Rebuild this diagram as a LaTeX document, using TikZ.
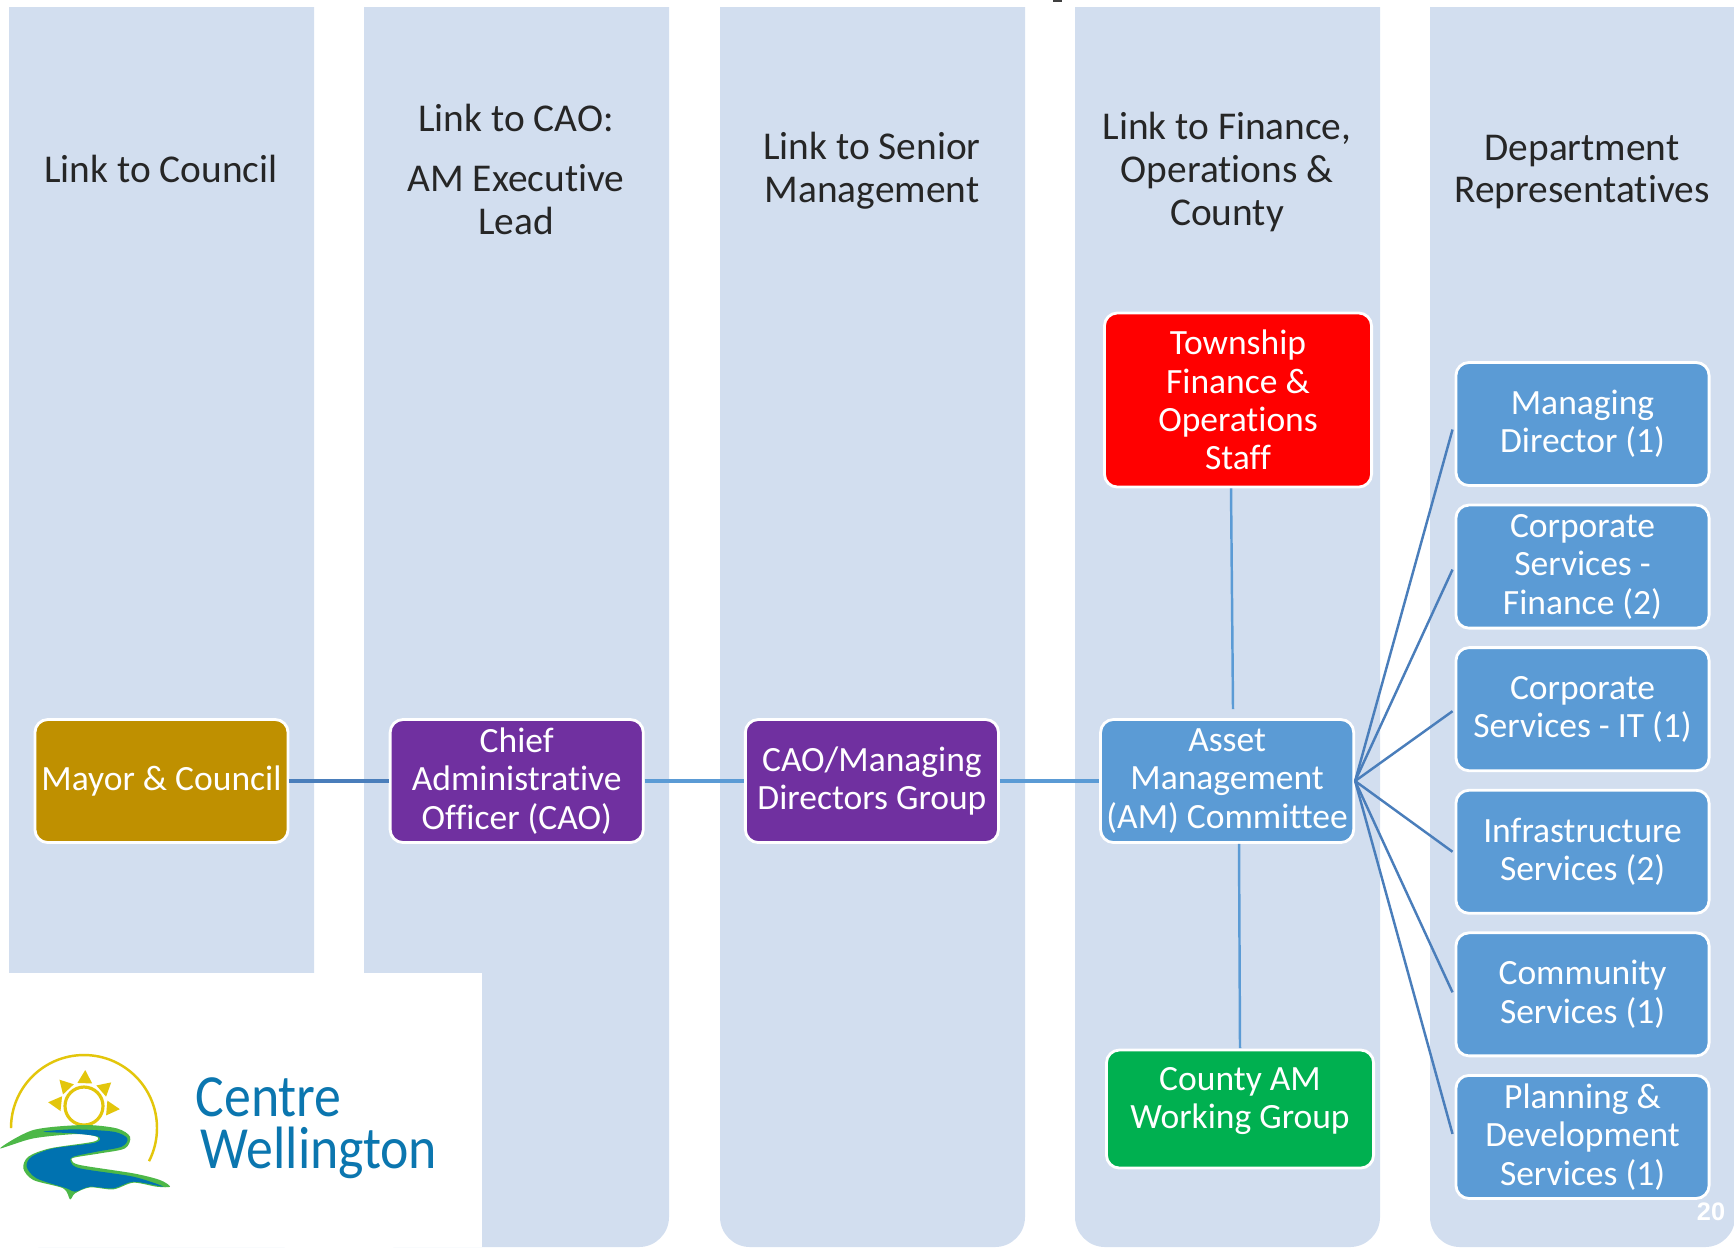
\documentclass[tikz,border=0pt]{standalone}
\usepackage{fontspec}
\setmainfont[Ligatures=CommonOff]{Carlito}
\newfontfamily\numfont{Liberation Sans}
\usetikzlibrary {positioning}
\definecolor{colfill}{HTML}{D2DEEF}
\definecolor{boxblue}{HTML}{5B9BD5}
\definecolor{linkblue}{HTML}{4A7EBB}
\definecolor{boxgold}{HTML}{BF9000}
\definecolor{boxpurple}{HTML}{7030A0}
\definecolor{boxred}{HTML}{FF0000}
\definecolor{boxgreen}{HTML}{00B050}
\definecolor{logoteal}{HTML}{0B76AF}
\definecolor{logosun}{HTML}{E3C60B}
\definecolor{logogreen}{HTML}{4DB848}
\definecolor{logoriver}{HTML}{0072B0}
\tikzset{
  head/.style={align=center,text=black!85,font=\fontsize{11.2}{12.2}\selectfont},
  unit/.style={rounded corners=.13cm,draw=white,line width=.8pt,text=white,align=center,
    minimum width=2.53cm,minimum height=1.23cm,inner sep=0pt,
    font=\fontsize{10.1}{10.9}\selectfont},
  brand/.style={anchor=base west,inner sep=0pt,text=logoteal,xscale=.9,transform shape,
    font=\fontsize{17}{18}\selectfont}
}
\begin{document}
\begin{tikzpicture}[x=.01cm,y=-.01cm,node distance= 3.55cm]
      \useasboundingbox (0,0) rectangle (1734,1247);
      \foreach \x in {9,364,720,1075,1430}
        \fill[colfill] (\x,7) -- (\x+305,7) [rounded corners=.3cm] -- (\x+305,1247) -- (\x,1247) [sharp corners] -- (\x,7) -- cycle;
      \fill[black!75] (1053,0) rectangle (1062,2);
      \fill[white] (0,973) rectangle (482,1247);
      % headings
      \node (hcouncil)[head] at (161,169) {Link to Council};
      \node (hcao)[head] at (516,118) {Link to CAO:};
      \node (hlead)[head] at (516,200) {AM Executive\\Lead};
      \node (hsenior)[head] at (872,171) {Link to Senior\\Management};
      \node (hfinance)[head] at (1227,172) {Link to Finance,\\Operations \&\\County};
      \node (hdept)[head] at (1582,172) {Department\\Representatives};
      % main row
      \begin{scope}
        \node (mayor)[unit,fill=boxgold] at (161.5,781) {Mayor \& Council};
        \node (cao)[unit,fill=boxpurple] [right of= mayor] {Chief\\Administrative\\Officer (CAO)};
        \node (mgmt)[unit,fill=boxpurple] [right of= cao] {CAO/Managing\\Directors Group};
        \node (am)[unit,fill=boxblue] [right of= mgmt] {Asset\\Management\\(AM) Committee};
      \end{scope}
      \node (staff)[unit,fill=boxred,minimum width=2.67cm,minimum height=1.74cm] at (1238,400) {Township\\Finance \&\\Operations\\Staff};
      \node (county)[unit,fill=boxgreen,minimum width=2.67cm,minimum height=1.18cm] at (1240,1109) {County AM\\Working Group\\[-.16cm]\mbox{}};
      % departments
      \begin{scope}[node distance= 1.425cm,every node/.append style={unit,fill=boxblue}]
        \node (md) at (1582.5,424) {Managing\\Director (1)};
        \node (fin) [below of= md] {Corporate\\Services -\\Finance (2)};
        \node (it) [below of= fin] {Corporate\\Services - IT (1)};
        \node (infra) [below of= it] {Infrastructure\\Services (2)};
        \node (comm) [below of= infra] {Community\\Services (1)};
        \node (plan) [below of= comm] {Planning \&\\Development\\Services (1)};
      \end{scope}
      \coordinate (stafflow) at (1233,709);
      \coordinate (countylow) at (1240,1048);
      \begin{scope}
        [every edge/.style={draw= linkblue, line width= 1.4pt}]
        \path (mayor) edge (cao);
        \path (cao) edge[draw= boxblue] (mgmt);
        \path (mgmt) edge[draw= boxblue] (am);
      \end{scope}
      \begin{scope}
        [every edge/.style={draw= linkblue, line width= .7pt}]
        \path (am.east) edge ([xshift=-.02cm,yshift=-.055cm]md.west);
        \path (am.east) edge ([xshift=-.02cm,yshift=-.03cm]fin.west);
        \path (am.east) edge ([xshift=-.02cm,yshift=-.02cm]it.west);
        \path (am.east) edge ([xshift=-.02cm]infra.west);
        \path (am.east) edge ([xshift=-.02cm,yshift=.02cm]comm.west);
        \path (am.east) edge ([xshift=-.02cm,yshift=.03cm]plan.west);
        \path (staff.south -| 1231,0) edge[draw= boxblue] (stafflow);
        \path (am.south -| 1239,0) edge[draw= boxblue] (countylow);
      \end{scope}
      \node (pagenum)[text=white,font=\numfont\bfseries\fontsize{7.2}{9}\selectfont] at (1711,1212) {20};
      % logo
      \draw[logosun,line width= .7pt] (11,1128) arc[start angle=180,end angle=387,radius=73];
      \draw[logosun,line width= .9pt] (84,1106) circle[radius=19];
      \foreach \a in {88,133,41,174,-5}
        \fill[logosun,shift={(84,1106)}] (-\a:36) -- (-\a-18:24) -- (-\a+18:24) -- cycle;
      \begin{scope}[shift={(0,960)},x=.01cm/3,y=-.01cm/3]
        \fill[logogreen] plot[smooth cycle,tension=.5] coordinates {(0,565) (100,510) (250,495) (350,505) (390,530) (375,565) (300,580) (225,592) (215,600) (240,615) (400,640) (480,660) (510,680) (470,680) (400,668) (340,688) (270,682) (225,700) (210,718) (190,685) (100,660) (70,625) (85,590) (150,565) (280,545) (290,530) (230,522) (100,535)};
        \fill[logoriver] plot[smooth cycle,tension=.5] coordinates {(130,515) (220,508) (340,515) (382,535) (365,560) (290,575) (220,590) (212,605) (240,625) (400,650) (490,680) (400,665) (340,685) (270,680) (225,695) (200,685) (110,655) (80,620) (95,590) (160,565) (285,548) (295,530) (220,520)};
      \end{scope}
      \node (centre)[brand] at (195,1116) {Centre};
      \node (wellington)[brand] at (200,1168) {Wellington};
    \end{tikzpicture}
\end{document}
